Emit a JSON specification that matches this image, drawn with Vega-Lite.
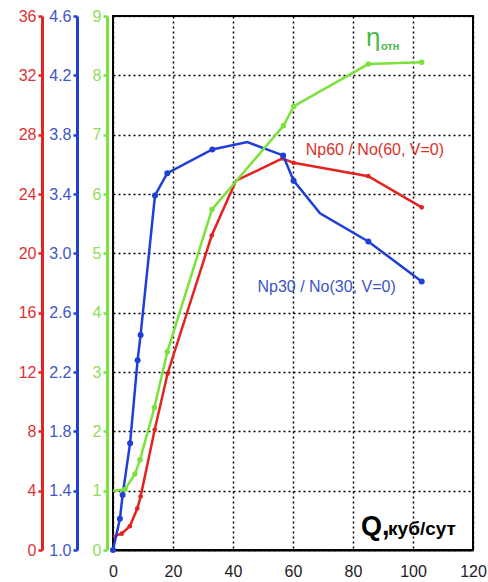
{
  "$schema": "https://vega.github.io/schema/vega-lite/v6.json",
  "width": 360,
  "height": 534,
  "autosize": {"type": "none"},
  "padding": {"left": 113, "top": 16, "right": 15, "bottom": 32},
  "background": "white",
  "config": {
    "view": {"stroke": "black", "strokeWidth": 2},
    "font": "Liberation Sans",
    "axis": {"labelFont": "Liberation Sans"}
  },
  "datasets": {
    "red": [
      {"Q": 0, "v": 0.9, "m": false},
      {"Q": 2.9, "v": 1.1, "m": true},
      {"Q": 5.6, "v": 1.6, "m": true},
      {"Q": 8.1, "v": 2.8, "m": true},
      {"Q": 9.2, "v": 3.6, "m": true},
      {"Q": 13.9, "v": 8.1, "m": true},
      {"Q": 18.2, "v": 11.9, "m": true},
      {"Q": 32.9, "v": 21.2, "m": true},
      {"Q": 41.0, "v": 24.9, "m": false},
      {"Q": 56.5, "v": 26.4, "m": true},
      {"Q": 60.2, "v": 26.1, "m": true},
      {"Q": 85.1, "v": 25.2, "m": true},
      {"Q": 102.9, "v": 23.1, "m": true}
    ],
    "blue": [
      {"Q": 0, "v": 1.0, "m": true},
      {"Q": 2.3, "v": 1.21, "m": true},
      {"Q": 3.2, "v": 1.37, "m": true},
      {"Q": 5.7, "v": 1.72, "m": true},
      {"Q": 8.2, "v": 2.28, "m": true},
      {"Q": 9.2, "v": 2.45, "m": true},
      {"Q": 14.0, "v": 3.39, "m": true},
      {"Q": 18.1, "v": 3.54, "m": true},
      {"Q": 33.1, "v": 3.70, "m": true},
      {"Q": 44.8, "v": 3.75, "m": false},
      {"Q": 56.7, "v": 3.66, "m": true},
      {"Q": 60.2, "v": 3.49, "m": true},
      {"Q": 69.0, "v": 3.27, "m": false},
      {"Q": 85.1, "v": 3.08, "m": true},
      {"Q": 102.9, "v": 2.81, "m": true}
    ],
    "green": [
      {"Q": 0, "v": 1.0, "m": false},
      {"Q": 4.0, "v": 1.02, "m": true},
      {"Q": 7.3, "v": 1.28, "m": true},
      {"Q": 9.0, "v": 1.52, "m": true},
      {"Q": 13.8, "v": 2.4, "m": true},
      {"Q": 18.1, "v": 3.34, "m": true},
      {"Q": 33.0, "v": 5.74, "m": true},
      {"Q": 56.8, "v": 7.15, "m": true},
      {"Q": 60.3, "v": 7.48, "m": true},
      {"Q": 85.1, "v": 8.19, "m": true},
      {"Q": 102.9, "v": 8.22, "m": true}
    ]
  },
  "encoding": {
    "x": {
      "field": "Q",
      "type": "quantitative",
      "scale": {"domain": [0, 120], "nice": false},
      "axis": {
        "values": [0, 20, 40, 60, 80, 100, 120],
        "grid": true,
        "gridColor": "black",
        "gridDash": [2, 3],
        "gridWidth": 1.5,
        "gridOpacity": 1,
        "domainColor": "black",
        "domainWidth": 2,
        "ticks": false,
        "labelFlush": false,
        "labelFontSize": 16,
        "labelColor": "#222222",
        "labelPadding": 13,
        "title": null
      }
    }
  },
  "layer": [
    {
      "encoding": {
        "y": {
          "field": "v",
          "type": "quantitative",
          "scale": {"domain": [0, 36], "nice": false, "zero": false},
          "axis": {
            "orient": "left",
            "offset": 71,
            "values": [0, 4, 8, 12, 16, 20, 24, 28, 32, 36],
            "domainColor": "#e3231f",
            "domainWidth": 3,
            "tickColor": "#e3231f",
            "tickSize": 4,
            "tickWidth": 2.5,
            "labelColor": "#dd3333",
            "labelFontSize": 16,
            "labelPadding": 2,
            "grid": false,
            "title": null
          }
        }
      },
      "layer": [
        {
          "data": {"name": "red"},
          "mark": {"type": "line", "color": "#e3231f", "strokeWidth": 2.5}
        },
        {
          "data": {"name": "red"},
          "transform": [{"filter": "datum.m"}],
          "mark": {"type": "circle", "color": "#e3231f", "size": 22, "opacity": 1}
        },
        {
          "data": {"values": [{"Q": 87.3, "v": 26.97, "t": "Np60 / No(60, V=0)"}]},
          "mark": {"type": "text", "color": "#d8322a", "fontSize": 16, "align": "center", "baseline": "middle"},
          "encoding": {"text": {"field": "t"}}
        }
      ]
    },
    {
      "encoding": {
        "y": {
          "field": "v",
          "type": "quantitative",
          "scale": {"domain": [1.0, 4.6], "nice": false, "zero": false},
          "axis": {
            "orient": "left",
            "offset": 36,
            "values": [1.0, 1.4, 1.8, 2.2, 2.6, 3.0, 3.4, 3.8, 4.2, 4.6],
            "format": ".1f",
            "domainColor": "#1f3fd6",
            "domainWidth": 3,
            "tickColor": "#1f3fd6",
            "tickSize": 4,
            "tickWidth": 2.5,
            "labelColor": "#4456c4",
            "labelFontSize": 16,
            "labelPadding": 2,
            "grid": false,
            "title": null
          }
        }
      },
      "layer": [
        {
          "data": {"name": "blue"},
          "mark": {"type": "line", "color": "#1f3fd6", "strokeWidth": 2.5}
        },
        {
          "data": {"name": "blue"},
          "transform": [{"filter": "datum.m"}],
          "mark": {"type": "circle", "color": "#1f3fd6", "size": 36, "opacity": 1}
        },
        {
          "data": {"values": [{"Q": 71.2, "v": 2.77, "t": "Np30 / No(30, V=0)"}]},
          "mark": {"type": "text", "color": "#3b55c8", "fontSize": 16, "align": "center", "baseline": "middle"},
          "encoding": {"text": {"field": "t"}}
        }
      ]
    },
    {
      "encoding": {
        "y": {
          "field": "v",
          "type": "quantitative",
          "scale": {"domain": [0, 9], "nice": false},
          "axis": {
            "orient": "left",
            "offset": 6,
            "values": [0, 1, 2, 3, 4, 5, 6, 7, 8, 9],
            "domainColor": "#7ae23a",
            "domainWidth": 3,
            "tickColor": "#7ae23a",
            "tickSize": 4,
            "tickWidth": 2.5,
            "labelColor": "#8fdc5c",
            "labelFontSize": 16,
            "labelPadding": 2,
            "grid": true,
            "gridColor": "black",
            "gridDash": [2, 3],
            "gridWidth": 1.5,
            "gridOpacity": 1,
            "title": null
          }
        }
      },
      "layer": [
        {
          "data": {"name": "green"},
          "mark": {"type": "line", "color": "#7ae23a", "strokeWidth": 2.5}
        },
        {
          "data": {"name": "green"},
          "transform": [{"filter": "datum.m"}],
          "mark": {"type": "circle", "color": "#7ae23a", "size": 30, "opacity": 1}
        },
        {
          "data": {"values": [{"Q": 84.3, "v": 8.49, "t": "η"}]},
          "mark": {"type": "text", "color": "#4cb84c", "fontSize": 26, "align": "left", "baseline": "alphabetic"},
          "encoding": {"text": {"field": "t"}}
        },
        {
          "data": {"values": [{"Q": 89.3, "v": 8.42, "t": "отн"}]},
          "mark": {"type": "text", "color": "#4cb84c", "fontSize": 11, "fontWeight": "bold", "align": "left", "baseline": "alphabetic"},
          "encoding": {"text": {"field": "t"}}
        },
        {
          "data": {"values": [{"Q": 82.7, "v": 0.25, "t": "Q,"}]},
          "mark": {"type": "text", "color": "black", "fontSize": 27, "fontWeight": "bold", "align": "left", "baseline": "alphabetic"},
          "encoding": {"text": {"field": "t"}}
        },
        {
          "data": {"values": [{"Q": 91.7, "v": 0.25, "t": "куб/сут"}]},
          "mark": {"type": "text", "color": "black", "fontSize": 19, "fontWeight": "bold", "align": "left", "baseline": "alphabetic"},
          "encoding": {"text": {"field": "t"}}
        }
      ]
    }
  ],
  "resolve": {"scale": {"y": "independent"}, "axis": {"y": "independent"}}
}
